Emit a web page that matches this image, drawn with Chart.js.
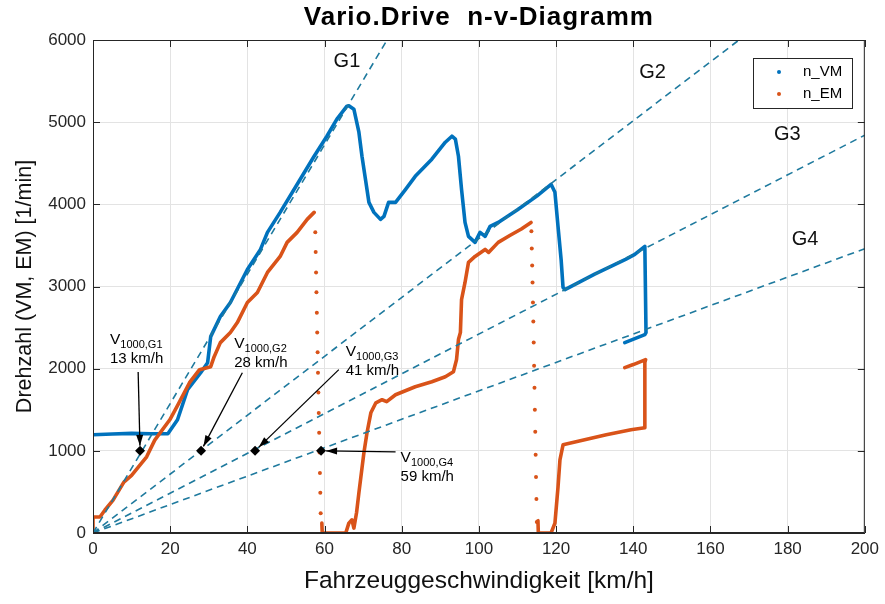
<!DOCTYPE html>
<html>
<head>
<meta charset="utf-8">
<script src="https://cdn.jsdelivr.net/npm/chart.js@4.4.1/dist/chart.umd.min.js"></script>
<style>
  html, body { margin: 0; padding: 0; background: #fff; }
</style>
</head>
<body>
<canvas id="chart" width="885" height="604"></canvas>
<script>
// ==================== DATA ====================
const FONT = '"Liberation Sans", Arial, Helvetica, sans-serif';

const xTicks = [0, 20, 40, 60, 80, 100, 120, 140, 160, 180, 200];
const yTicks = [0, 1000, 2000, 3000, 4000, 5000, 6000];

// n_VM (engine) - one continuous trace, [km/h, 1/min]
const vmPath = [
  [0, 1195], [5, 1205], [10, 1212], [15, 1208], [19.4, 1207], [21.9, 1378], [24.5, 1744],
  [27.9, 1951], [29.7, 2073], [30.5, 2390], [33.0, 2634], [35.6, 2805], [40.0, 3207],
  [43.4, 3451], [45.2, 3659], [48.5, 3902], [53.7, 4305], [57.3, 4585], [60.6, 4829],
  [63.2, 5037], [65.8, 5195], [66.3, 5200], [67.6, 5158], [68.9, 4878], [69.7, 4585],
  [70.6, 4305], [71.5, 4024], [72.8, 3902], [74.5, 3817], [75.4, 3854], [76.6, 4024],
  [78.4, 4024], [81.0, 4183], [83.5, 4341], [87.8, 4549], [91.3, 4756], [93.0, 4829],
  [93.9, 4793], [94.7, 4585], [95.5, 4183], [96.4, 3780], [97.3, 3610], [99.0, 3537],
  [100.3, 3659], [101.6, 3610], [102.9, 3732], [105, 3780], [110, 3935], [115, 4100],
  [118.7, 4244], [119.7, 4146], [120.5, 3732], [121.3, 3329], [121.8, 2988], [122.3, 2963],
  [130, 3150], [138, 3330], [140.4, 3390], [143, 3488], [143.3, 2439], [143, 2415], [137.8, 2317]
];

// n_EM (e-machine) - dense segments
const emPathA = [
  [0, 0], [0, 195], [1.8, 195], [3.1, 280], [5.2, 400], [5.7, 440], [8, 620], [10, 700],
  [13.9, 927], [16, 1130], [19.9, 1378], [22, 1560], [25, 1829], [27.6, 1988], [30.5, 2024],
  [31.4, 2146], [33.0, 2317], [35.6, 2439], [37.4, 2561], [40, 2805], [42.6, 2927],
  [45.2, 3171], [48.5, 3366], [50.3, 3537], [52.9, 3659], [55.5, 3817], [57.3, 3902]
];
const emPathB = [
  [59.3, 120], [59.4, 0], [62, 0], [65.5, 0], [66.3, 120], [67.1, 160], [67.6, 60],
  [68.3, 250], [68.9, 488], [70.2, 976], [71, 1220], [72, 1463], [73.3, 1585], [74.9, 1622],
  [76.1, 1598], [78.4, 1683], [83.5, 1780], [87.8, 1841], [91.3, 1902], [93.4, 1963],
  [94.2, 2110], [94.7, 2354], [95.2, 2439], [95.5, 2841], [96.4, 3049], [97.3, 3293],
  [99, 3366], [101.6, 3451], [102.5, 3415], [105, 3537], [108, 3620], [111, 3700], [113.5, 3780]
];
const emPathC = [
  [115.3, 150], [115.4, 0], [117, 0], [118.7, 0], [119.7, 120], [120.5, 560], [121, 890],
  [121.8, 1073], [127.4, 1134], [133, 1195], [139.4, 1256], [143, 1280], [143, 2073],
  [143.2, 2110], [140, 2050], [137.8, 2012]
];
// n_EM - sparse samples during the shifts
const emDropA = [
  [57.6, 3660], [57.7, 3420], [57.8, 3170], [57.9, 2930], [58.0, 2680], [58.1, 2440],
  [58.2, 2200], [58.3, 1950], [58.4, 1710], [58.5, 1460], [58.6, 1220], [58.7, 980],
  [58.8, 730], [58.9, 490], [59.0, 240]
];
const emDropB = [
  [113.6, 3671], [113.7, 3463], [113.8, 3256], [113.9, 3049], [114.0, 2805], [114.1, 2573],
  [114.2, 2317], [114.3, 2037], [114.4, 1768], [114.5, 1500], [114.6, 1232], [114.7, 951],
  [114.8, 683], [114.9, 415], [115.0, 134]
];

// gear lines: speed at 1000 1/min
const gearNames = ['G1', 'G2', 'G3', 'G4'];
const gearV1000 = [12.7, 27.9, 41.3, 57.8];

// marked points and their labels
const markerV = [12.2, 28.0, 42.0, 59.1];
const markerN = [1000, 1000, 1000, 1000];
const markerSub = ['1000,G1', '1000,G2', '1000,G3', '1000,G4'];
const markerText = ['13 km/h', '28 km/h', '41 km/h', '59 km/h'];

// ==================== STYLE / LAYOUT ====================
const C_VM = '#0072BD';
const C_EM = '#D95319';
const C_GEAR = '#1f7a9e';
const C_AXIS = '#262626';

const gearLabelPos = [[65.8, 5744], [145, 5610], [179.9, 4854], [184.5, 3573]];
// text anchor (V line) and arrow start, in data units
const annoPos = [
  { tx: 4.4, ty: 2378, ax: 11.7, ay: 1960 },
  { tx: 36.6, ty: 2329, ax: 38.7, ay: 1951 },
  { tx: 65.5, ty: 2232, ax: 63.7, ay: 1988 },
  { tx: 79.7, ty: 939, ax: 78.4, ay: 988 }
];

const toXY = arr => arr.map(p => ({ x: p[0], y: p[1] }));

const gearDatasets = gearV1000.map(v => ({
  label: 'gear',
  data: [{ x: 0, y: 0 }, { x: 200, y: 200 * 1000 / v }],
  showLine: true,
  borderColor: C_GEAR,
  borderWidth: 1.6,
  borderDash: [7, 5],
  pointRadius: 0
}));

function lineSet(label, pts, color) {
  return {
    label, data: toXY(pts), showLine: true, borderColor: color, backgroundColor: color,
    borderWidth: 3.6, pointRadius: 0, borderJoinStyle: 'round', borderCapStyle: 'round'
  };
}
function dotSet(label, pts, color) {
  return {
    label, data: toXY(pts), showLine: false, borderColor: color, backgroundColor: color,
    pointRadius: 2, pointBorderWidth: 0
  };
}

// ==================== PLUGIN ====================
const decor = {
  id: 'decor',
  afterDraw(chart) {
    const { ctx, chartArea: a, scales: { x, y } } = chart;
    ctx.save();
    // box + inward ticks
    ctx.strokeStyle = C_AXIS;
    ctx.lineWidth = 1;
    ctx.strokeRect(a.left + 0.5, a.top + 0.5, a.right - a.left - 1, a.bottom - a.top - 1);
    ctx.beginPath();
    xTicks.forEach(v => {
      const px = Math.round(x.getPixelForValue(v)) + 0.5;
      ctx.moveTo(px, a.bottom); ctx.lineTo(px, a.bottom - 7);
      ctx.moveTo(px, a.top); ctx.lineTo(px, a.top + 7);
    });
    yTicks.forEach(v => {
      const py = Math.round(y.getPixelForValue(v)) + 0.5;
      ctx.moveTo(a.left, py); ctx.lineTo(a.left + 7, py);
      ctx.moveTo(a.right, py); ctx.lineTo(a.right - 7, py);
    });
    ctx.stroke();

    // title
    ctx.fillStyle = '#000';
    ctx.font = 'bold 26px ' + FONT;
    ctx.letterSpacing = '1px';
    ctx.textAlign = 'center';
    ctx.textBaseline = 'middle';
    ctx.fillText('Vario.Drive  n-v-Diagramm', (a.left + a.right) / 2, 18);
    ctx.letterSpacing = '0px';

    // gear labels
    ctx.font = '20px ' + FONT;
    ctx.fillStyle = '#111';
    gearNames.forEach((g, i) => {
      ctx.fillText(g, x.getPixelForValue(gearLabelPos[i][0]), y.getPixelForValue(gearLabelPos[i][1]));
    });

    // arrows + labels
    ctx.strokeStyle = '#000';
    ctx.fillStyle = '#000';
    ctx.lineWidth = 1.3;
    markerV.forEach((v, i) => {
      const p = annoPos[i];
      const x0 = x.getPixelForValue(p.ax), y0 = y.getPixelForValue(p.ay);
      let x1 = x.getPixelForValue(v), y1 = y.getPixelForValue(markerN[i]);
      const ang = Math.atan2(y1 - y0, x1 - x0);
      x1 -= Math.cos(ang) * 5; y1 -= Math.sin(ang) * 5;
      ctx.beginPath(); ctx.moveTo(x0, y0); ctx.lineTo(x1, y1); ctx.stroke();
      const L = 11, W = 3.5;
      ctx.beginPath();
      ctx.moveTo(x1, y1);
      ctx.lineTo(x1 - L * Math.cos(ang) + W * Math.sin(ang), y1 - L * Math.sin(ang) - W * Math.cos(ang));
      ctx.lineTo(x1 - L * Math.cos(ang) - W * Math.sin(ang), y1 - L * Math.sin(ang) + W * Math.cos(ang));
      ctx.closePath(); ctx.fill();

      const tx = x.getPixelForValue(p.tx), ty = y.getPixelForValue(p.ty);
      ctx.textAlign = 'left';
      ctx.textBaseline = 'alphabetic';
      ctx.font = '15.5px ' + FONT;
      ctx.fillText('V', tx, ty + 6);
      const w = ctx.measureText('V').width;
      ctx.font = '11px ' + FONT;
      ctx.fillText(markerSub[i], tx + w, ty + 10);
      ctx.font = '15px ' + FONT;
      ctx.fillText(markerText[i], tx, ty + 6 + 19);
    });

    // legend
    const lx = 753.5, ly = 58.5, lw = 99, lh = 50;
    ctx.fillStyle = '#fff';
    ctx.fillRect(lx, ly, lw, lh);
    ctx.strokeStyle = C_AXIS;
    ctx.lineWidth = 1;
    ctx.strokeRect(lx, ly, lw, lh);
    [['n_VM', C_VM], ['n_EM', C_EM]].forEach((e, i) => {
      const cy = 72 + i * 22;
      ctx.fillStyle = e[1];
      ctx.beginPath(); ctx.arc(779, cy, 2, 0, Math.PI * 2); ctx.fill();
      ctx.fillStyle = '#000';
      ctx.font = '15px ' + FONT;
      ctx.textBaseline = 'middle';
      ctx.fillText(e[0], 803, cy);
    });
    ctx.restore();
  }
};

// ==================== CHART ====================
new Chart(document.getElementById('chart'), {
  type: 'scatter',
  data: {
    datasets: [
      {
        label: 'V1000', data: markerV.map((v, i) => ({ x: v, y: markerN[i] })),
        pointStyle: 'rectRot', pointRadius: 5, backgroundColor: '#000', borderColor: '#000', borderWidth: 0
      },
      ...gearDatasets,
      dotSet('n_EM', emDropA, C_EM),
      dotSet('n_EM', emDropB, C_EM),
      lineSet('n_EM', emPathA, C_EM),
      lineSet('n_EM', emPathB, C_EM),
      lineSet('n_EM', emPathC, C_EM),
      lineSet('n_VM', vmPath, C_VM)
    ]
  },
  options: {
    responsive: false,
    animation: false,
    layout: { padding: { top: 40, right: 14, bottom: 0, left: 0 } },
    plugins: { legend: { display: false }, tooltip: { enabled: false } },
    scales: {
      x: {
        type: 'linear', min: 0, max: 200,
        afterBuildTicks: s => { s.ticks = xTicks.map(v => ({ value: v })); },
        afterFit: s => { s.height = 71; },
        ticks: { font: { family: FONT, size: 17 }, color: C_AXIS, padding: 6, maxRotation: 0, callback: v => String(v) },
        grid: { color: '#e3e3e3', drawTicks: false },
        border: { color: C_AXIS },
        title: {
          display: true, text: 'Fahrzeuggeschwindigkeit [km/h]', color: '#111',
          font: { family: FONT, size: 24.5 }, padding: { top: 0, bottom: 8 }
        }
      },
      y: {
        type: 'linear', min: 0, max: 6000,
        afterBuildTicks: s => { s.ticks = yTicks.map(v => ({ value: v })); },
        afterFit: s => { s.width = 93; },
        ticks: { font: { family: FONT, size: 17 }, color: C_AXIS, padding: 7, callback: v => String(v) },
        grid: { color: '#e3e3e3', drawTicks: false },
        border: { color: C_AXIS },
        title: {
          display: true, text: 'Drehzahl (VM, EM) [1/min]', color: '#111',
          font: { family: FONT, size: 21.5 }, padding: { top: 12, bottom: 0 }
        }
      }
    }
  },
  plugins: [decor]
});
</script>
</body>
</html>
